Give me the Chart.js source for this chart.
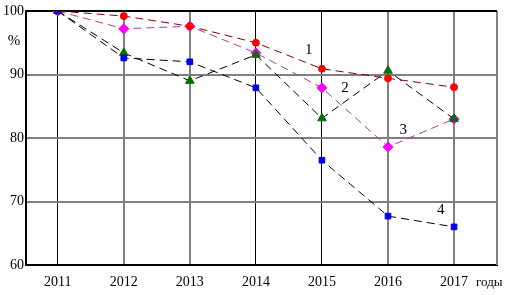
<!DOCTYPE html>
<html>
<head>
<meta charset="utf-8">
<script src="https://cdn.jsdelivr.net/npm/chart.js@4.4.1/dist/chart.umd.min.js"></script>
<style>
  body { margin: 0; background: #fff; }
  #wrap { width: 510px; height: 295px; position: relative; }
</style>
</head>
<body>
<div id="wrap"><canvas id="chart"></canvas></div>
<script>
// Data
const years = [2011, 2012, 2013, 2014, 2015, 2016, 2017];
const series1 = [100, 99.2, 97.6, 95.0, 90.9, 89.4, 88.0];
const series2 = [100, 93.4, 89.0, 93.1, 83.1, 90.6, 83.0];
const series3 = [100, 97.2, 97.6, 93.4, 87.9, 78.6, 83.0];
const series4 = [100, 92.6, 92.0, 87.9, 76.5, 67.7, 66.0];
const yTicks = [60, 70, 80, 90, 100];
const curveLabels = ['1', '2', '3', '4'];

const serif = '"Liberation Serif", "Times New Roman", serif';
const blackX = [2011, 2014, 2015];

function pts(vals) {
    return vals.map((v, i) => ({ x: years[i], y: v }));
}

// Draw frame lines and the text labels
const extras = {
    id: 'extras',
    beforeDatasetsDraw(chart) {
        const { ctx, chartArea: a } = chart;
        ctx.save();
        ctx.strokeStyle = '#808080';
        ctx.lineWidth = 2;
        ctx.beginPath();
        ctx.moveTo(a.right, a.top);
        ctx.lineTo(a.right, a.bottom);
        ctx.stroke();
        ctx.strokeStyle = '#000';
        ctx.lineWidth = 2;
        ctx.beginPath();
        ctx.moveTo(a.left, a.top);
        ctx.lineTo(a.right, a.top);
        ctx.stroke();
        ctx.restore();
    },
    afterDatasetsDraw(chart) {
        const { ctx } = chart;
        const xs = chart.scales.x, ys = chart.scales.y;
        ctx.save();
        ctx.fillStyle = '#000';
        ctx.font = '15px ' + serif;
        ctx.textAlign = 'center';
        ctx.textBaseline = 'middle';
        // curve numbers
        const spots = [[2014.8, 93.8], [2015.35, 87.9], [2016.23, 81.3], [2016.8, 68.6]];
        spots.forEach((p, i) => {
            ctx.fillText(curveLabels[i], xs.getPixelForValue(p[0]), ys.getPixelForValue(p[1]));
        });
        ctx.fillText('%', 14, 41);
        ctx.font = '13px ' + serif;
        ctx.textAlign = 'left';
        ctx.fillText('годы', 476, 283);
        ctx.restore();
    }
};

const ds = (label, vals, color, pointColor, style, radius) => ({
    label: label,
    data: pts(vals),
    borderColor: color,
    borderWidth: 1,
    borderDash: [8, 5],
    backgroundColor: pointColor,
    pointBackgroundColor: pointColor,
    pointBorderColor: pointColor,
    pointStyle: style,
    pointRadius: radius,
    pointBorderWidth: 1,
    fill: false,
    tension: 0
});

new Chart(document.getElementById('chart'), {
    type: 'line',
    data: {
        datasets: [
            ds('4', series4, '#000', '#0000ee', 'rect', 4),
            ds('2', series2, '#000', '#007000', 'triangle', 5),
            ds('1', series1, '#800000', '#ff0000', 'circle', 3.5),
            ds('3', series3, '#a040a0', '#ff00ff', 'rectRot', 5)
        ]
    },
    options: {
        responsive: true,
        maintainAspectRatio: false,
        animation: false,
        layout: { padding: { top: 11, right: 13, left: 0, bottom: 0 } },
        plugins: {
            legend: { display: false },
            tooltip: { enabled: false }
        },
        scales: {
            x: {
                type: 'linear',
                min: 2010.52,
                max: 2017.65,
                afterBuildTicks(scale) {
                    scale.ticks = years.map(v => ({ value: v }));
                },
                afterFit(scale) { scale.height = 30; },
                ticks: {
                    color: '#000',
                    font: { family: serif, size: 14 },
                    padding: 9,
                    maxRotation: 0,
                    autoSkip: false,
                    callback: v => String(v)
                },
                grid: {
                    drawTicks: false,
                    color: c => blackX.includes(c.tick && c.tick.value) ? '#000' : '#808080',
                    lineWidth: c => blackX.includes(c.tick && c.tick.value) ? 1 : 2
                },
                border: { color: '#000', width: 2 }
            },
            y: {
                min: 60,
                max: 100,
                afterBuildTicks(scale) {
                    scale.ticks = yTicks.map(v => ({ value: v }));
                },
                afterFit(scale) { scale.width = 26; },
                ticks: {
                    color: '#000',
                    font: { family: serif, size: 14 },
                    padding: 2
                },
                grid: {
                    drawTicks: false,
                    color: c => (c.tick && c.tick.value === 100) ? '#000' : '#808080',
                    lineWidth: 2
                },
                border: { color: '#000', width: 2 }
            }
        }
    },
    plugins: [extras]
});
</script>
</body>
</html>
